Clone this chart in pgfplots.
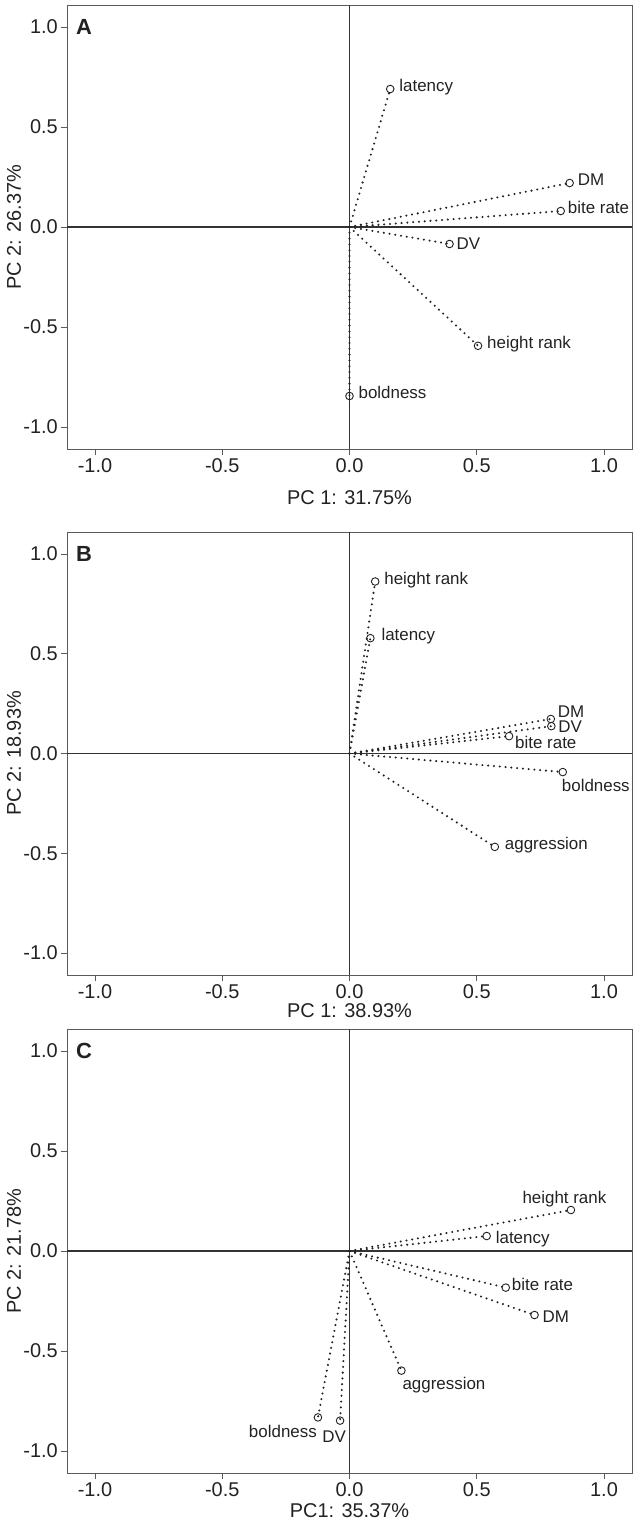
\documentclass[border=0pt]{standalone}
\usepackage{pgfplots}
\pgfplotsset{compat=1.18}
\usepackage{fontspec}
\setmainfont{Liberation Sans}

\definecolor{boxgray}{HTML}{5A5A5A}
\definecolor{ink}{HTML}{222222}

\pgfplotsset{
  pcaxis/.style={
    width=565bp, height=444bp, scale only axis,
    anchor=north west,
    xmin=-1.11, xmax=1.11, ymin=-1.11, ymax=1.11,
    clip=false,
    axis line style={boxgray, line width=0.9bp},
    tick style={boxgray, line width=0.9bp},
    tick align=outside, major tick length=6bp,
    xtick pos=bottom, ytick pos=left,
    xtick={-1,-0.5,0,0.5,1}, xticklabels={-1.0,-0.5,0.0,0.5,1.0},
    ytick={-1,-0.5,0,0.5,1}, yticklabels={-1.0,-0.5,0.0,0.5,1.0},
    tick label style={font=\fontsize{20}{24}\selectfont, text=ink, inner sep=3bp},
    label style={font=\fontsize{20}{24}\selectfont, text=ink, inner sep=0pt},
    ylabel style={at={(axis description cs:-0.0938,0.5)}, anchor=center},
    extra x ticks={0}, extra y ticks={0},
    extra x tick labels={}, extra y tick labels={},
    extra tick style={grid=major, major tick length=0pt,
      major grid style={black!80, line width=1.1bp}},
  },
  load/.style={ink, line width=2.3bp, line cap=round,
    dash pattern=on 0bp off 5.8bp,
    mark=o, mark indices={2}, mark size=3.8bp,
    mark options={solid, line width=0.9bp, fill=white, ink}},
}
\tikzset{lab/.style={font=\fontsize{17}{20}\selectfont, text=ink, inner sep=0pt},
  letter/.style={font=\fontsize{22}{26}\selectfont\bfseries, text=ink, anchor=west, inner sep=0pt, xshift=9bp}}

\begin{document}
\begin{tikzpicture}
\useasboundingbox (0,0) rectangle (638bp,-1533bp);

% A
\begin{axis}[pcaxis, at={(67bp,-5bp)},
  xlabel={PC 1: 31.75\%}, ylabel={PC 2: 26.37\%},
  xlabel style={at={(axis description cs:0.5,-0.0923)}, anchor=north}]
\addplot[load] coordinates {(0,0) (0.16,0.69)} node[pos=1, lab, anchor=mid west, xshift=8bp] {latency};
\addplot[load] coordinates {(0,0) (0.865,0.22)} node[pos=1, lab, anchor=mid west, xshift=7bp] {DM};
\addplot[load] coordinates {(0,0) (0.83,0.08)} node[pos=1, lab, anchor=mid west, xshift=6bp] {bite rate};
\addplot[load] coordinates {(0,0) (0.393,-0.085)} node[pos=1, lab, anchor=mid west, xshift=6bp, yshift=-3bp] {DV};
\addplot[load] coordinates {(0,0) (0.505,-0.594)} node[pos=1, lab, anchor=mid west, xshift=8bp] {height rank};
\addplot[load] coordinates {(0,0) (0.0,-0.845)} node[pos=1, lab, anchor=mid west, xshift=8bp] {boldness};
\node[letter] at (axis cs:-1.11,1.0) {A};
\end{axis}

% B
\begin{axis}[pcaxis, at={(67bp,-532bp)}, height=443bp,
  xlabel={PC 1: 38.93\%}, ylabel={PC 2: 18.93\%},
  xlabel style={at={(axis description cs:0.5,-0.0632)}, anchor=north}]
\addplot[load] coordinates {(0,0) (0.101,0.862)} node[pos=1, lab, anchor=mid west, xshift=8bp] {height rank};
\addplot[load] coordinates {(0,0) (0.082,0.578)} node[pos=1, lab, anchor=mid west, xshift=10bp] {latency};
\addplot[load] coordinates {(0,0) (0.791,0.173)} node[pos=1, lab, anchor=base west, xshift=6bp, yshift=1.5bp] {DM};
\addplot[load] coordinates {(0,0) (0.793,0.137)} node[pos=1, lab, anchor=mid west, xshift=6bp, yshift=-4bp] {DV};
\addplot[load] coordinates {(0,0) (0.627,0.087)} node[pos=1, lab, anchor=mid west, xshift=5bp, yshift=-9.5bp] {bite rate};
\addplot[load] coordinates {(0,0) (0.838,-0.093)} node[pos=1, lab, anchor=north west, xshift=-2bp, yshift=-6bp] {boldness};
\addplot[load] coordinates {(0,0) (0.571,-0.468)} node[pos=1, lab, anchor=mid west, xshift=9bp] {aggression};
\node[letter] at (axis cs:-1.11,1.0) {B};
\end{axis}

% C
\begin{axis}[pcaxis, at={(67bp,-1029bp)},
  xlabel={PC1: 35.37\%}, ylabel={PC 2: 21.78\%},
  xlabel style={at={(axis description cs:0.5,-0.0676)}, anchor=north}]
\addplot[load] coordinates {(0,0) (0.87,0.205)} node[pos=1, lab, anchor=base, xshift=-6.5bp, yshift=7bp] {height rank};
\addplot[load] coordinates {(0,0) (0.539,0.075)} node[pos=1, lab, anchor=mid west, xshift=8bp, yshift=-5bp] {latency};
\addplot[load] coordinates {(0,0) (0.614,-0.183)} node[pos=1, lab, anchor=mid west, xshift=5bp] {bite rate};
\addplot[load] coordinates {(0,0) (0.727,-0.32)} node[pos=1, lab, anchor=mid west, xshift=7bp, yshift=-4.5bp] {DM};
\addplot[load] coordinates {(0,0) (0.204,-0.598)} node[pos=1, lab, anchor=north west, xshift=0bp, yshift=-5bp] {aggression};
\addplot[load] coordinates {(0,0) (-0.124,-0.832)} node[pos=1, lab, anchor=north east, xshift=0bp, yshift=-7bp] {boldness};
\addplot[load] coordinates {(0,0) (-0.037,-0.848)} node[pos=1, lab, anchor=north, xshift=-6bp, yshift=-9bp] {DV};
\node[letter] at (axis cs:-1.11,1.0) {C};
\end{axis}
\end{tikzpicture}
\end{document}
